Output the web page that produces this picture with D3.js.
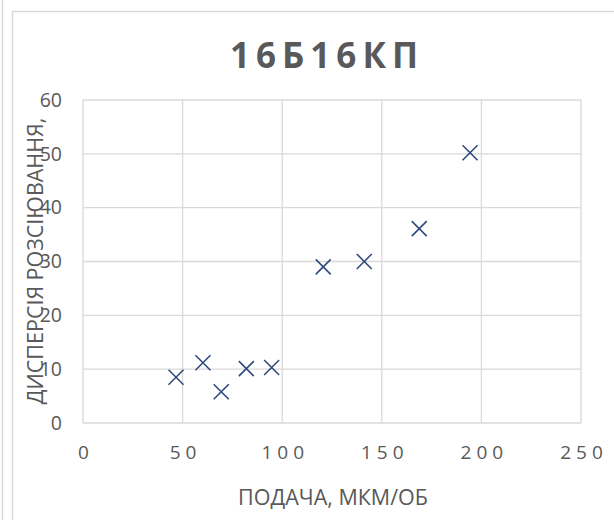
<!DOCTYPE html>
<html>
<head>
<meta charset="utf-8">
<script src="https://cdn.jsdelivr.net/npm/d3@7"></script>
<style>
  body { margin: 0; background: #fff; }
  svg text { font-family: "Open Sans", "Noto Sans", sans-serif; fill: #595959; }
</style>
</head>
<body>
<svg></svg>
<script>
// data
let feedValues = [46.7, 60.2, 69.4, 82, 94.7, 120.6, 141.2, 168.8, 194.3]
let dispersionValues = [8.5, 11.2, 5.8, 10.1, 10.3, 29.0, 30.0, 36.1, 50.2]
let xTicks = [0, 50, 100, 150, 200, 250]
let yTicks = [0, 10, 20, 30, 40, 50, 60]
let chartTitle = '16Б16КП'
let xTitle = 'ПОДАЧА, МКМ/ОБ'
let yTitle = 'ДИСПЕРСІЯ РОЗСІЮВАННЯ,'

let width = 614
let height = 520
let plotLeft = 83
let plotRight = 581
let plotTop = 100
let plotBottom = 423

let svg = d3.select('svg')
    .attr('width', width)
    .attr('height', height)

// outer frame lines
svg.append('line')
    .attr('x1', 2.5).attr('x2', 2.5).attr('y1', 0).attr('y2', height)
    .attr('stroke', '#d9d9d9').attr('stroke-width', 1.5)
svg.append('path')
    .attr('d', `M12.5,${height} V11.5 H${width}`)
    .attr('fill', 'none')
    .attr('stroke', '#d9d9d9').attr('stroke-width', 1.5)

let xScale = d3.scaleLinear().domain([0, 250]).range([plotLeft, plotRight])
let yScale = d3.scaleLinear().domain([0, 60]).range([plotBottom, plotTop])

// gridlines
svg.append('g')
    .selectAll('line')
    .data(xTicks)
    .enter()
    .append('line')
    .attr('x1', d => xScale(d)).attr('x2', d => xScale(d))
    .attr('y1', plotTop).attr('y2', plotBottom)
    .attr('stroke', '#d9d9d9').attr('stroke-width', 1.3)

svg.append('g')
    .selectAll('line')
    .data(yTicks)
    .enter()
    .append('line')
    .attr('x1', plotLeft).attr('x2', plotRight)
    .attr('y1', d => yScale(d)).attr('y2', d => yScale(d))
    .attr('stroke', '#d9d9d9').attr('stroke-width', 1.3)

// axes (tick labels only, Excel style)
let xAxis = d3.axisBottom(xScale).tickValues(xTicks).tickSize(0).tickPadding(0)
let xg = svg.append('g')
    .attr('transform', `translate(0, ${plotBottom + 30})`)
    .call(xAxis)
xg.select('.domain').remove()
xg.selectAll('text')
    .attr('dy', '0.32em')
    .style('font-size', '19px')
    .style('letter-spacing', '5px')
    .attr('dx', '2.5px')
    .style('fill', '#595959')

let yAxis = d3.axisLeft(yScale).tickValues(yTicks).tickSize(0).tickPadding(0)
let yg = svg.append('g')
    .attr('transform', `translate(${plotLeft - 21}, 0)`)
    .call(yAxis)
yg.select('.domain').remove()
yg.selectAll('text')
    .style('font-size', '19.5px')
    .style('fill', '#595959')

// markers
let s = 7.5
svg.append('g')
    .selectAll('path')
    .data(feedValues)
    .enter()
    .append('path')
    .attr('d', (d, i) => {
        let cx = xScale(d)
        let cy = yScale(dispersionValues[i])
        return `M${cx - s},${cy - s}L${cx + s},${cy + s}M${cx - s},${cy + s}L${cx + s},${cy - s}`
    })
    .attr('stroke', '#2f4b7c')
    .attr('stroke-width', 1.6)
    .attr('fill', 'none')

// titles
svg.append('text')
    .attr('x', 324 + 3)
    .attr('y', 68)
    .attr('text-anchor', 'middle')
    .style('font-size', '35px')
    .style('font-weight', 'bold')
    .style('letter-spacing', '6px')
    .text(chartTitle)

svg.append('text')
    .attr('x', 333)
    .attr('y', 505)
    .attr('text-anchor', 'middle')
    .style('font-size', '21.5px')
    .text(xTitle)

svg.append('text')
    .attr('transform', `translate(43, 261) rotate(-90)`)
    .attr('text-anchor', 'middle')
    .style('font-size', '21.5px')
    .text(yTitle)
</script>
</body>
</html>
